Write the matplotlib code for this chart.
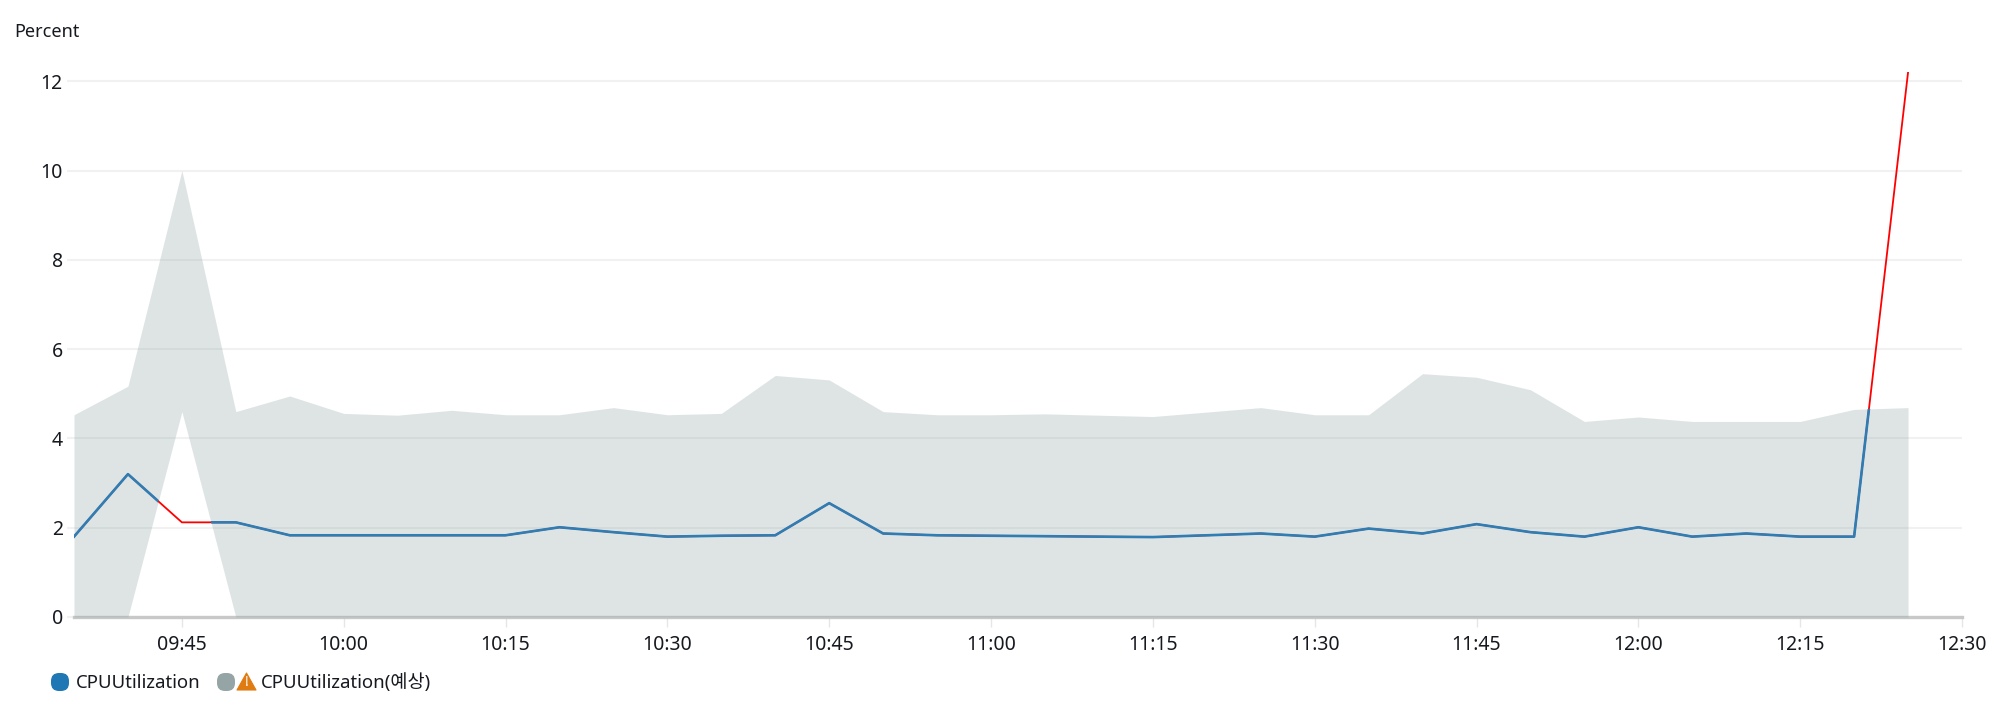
import matplotlib
matplotlib.use('Agg')
import matplotlib.pyplot as plt
import matplotlib.dates as mdates
import matplotlib.patches as mpatches
import pandas as pd

plt.rcParams['font.family'] = ['Noto Sans', 'Noto Sans CJK KR', 'DejaVu Sans']

# one sample every 5 minutes
times = pd.date_range('2024-01-01 09:35', '2024-01-01 12:25', freq='5min')
cpu = [1.80, 3.20, 2.12, 2.12, 1.83, 1.83, 1.83, 1.83, 1.83, 2.01, 1.90, 1.80,
       1.82, 1.83, 2.55, 1.87, 1.83, 1.82, 1.81, 1.80, 1.79, 1.83, 1.87, 1.80,
       1.98, 1.87, 2.08, 1.90, 1.80, 2.01, 1.80, 1.87, 1.80, 1.80, 12.20]
band_upper = [4.53, 5.17, 10.00, 4.60, 4.95, 4.56, 4.52, 4.63, 4.53, 4.53, 4.69, 4.53,
              4.56, 5.41, 5.31, 4.60, 4.53, 4.53, 4.55, 4.52, 4.49, 4.59, 4.69, 4.53,
              4.53, 5.45, 5.37, 5.09, 4.38, 4.48, 4.38, 4.38, 4.38, 4.65, 4.69]
band_lower = [0, 0, 4.60, 0, 0, 0, 0, 0, 0, 0, 0, 0,
              0, 0, 0, 0, 0, 0, 0, 0, 0, 0, 0, 0,
              0, 0, 0, 0, 0, 0, 0, 0, 0, 0, 0]

y_ticks = [0, 2, 4, 6, 8, 10, 12]
x_tick_labels = ['09:45', '10:00', '10:15', '10:30', '10:45', '11:00',
                 '11:15', '11:30', '11:45', '12:00', '12:15', '12:30']
x_ticks = [pd.Timestamp('2024-01-01 ' + t) for t in x_tick_labels]

W, H = 2000, 701
fig = plt.figure(figsize=(W / 100, H / 100), dpi=100)
ax = fig.add_axes([74 / W, 1 - 617 / H, (1962 - 74) / W, (617 - 72.3) / H])

# band first, grid shows through it
band = ax.fill_between(times, band_lower, band_upper, color='#92a8a8', alpha=0.3,
                       linewidth=0, zorder=3)

# red everywhere, blue only where the value stays inside the band
ax.plot(times, cpu, color='#ff0000', lw=1.3, zorder=4)
inside, = ax.plot(times, cpu, color='#2f7db3', lw=1.9, zorder=5)
inside.set_clip_path(band.get_paths()[0], ax.transData)

ax.set_xlim(times[0], x_ticks[-1])
ax.set_ylim(0, 12.2)
ax.set_yticks(y_ticks)
ax.set_xticks(x_ticks)
ax.set_xticklabels(x_tick_labels)
ax.xaxis.set_major_formatter(mdates.DateFormatter('%H:%M'))

ax.grid(axis='y', color='#f1f1f1', lw=1.5, zorder=1)
ax.set_axisbelow(True)
for side in ['top', 'right', 'left']:
    ax.spines[side].set_visible(False)
ax.spines['bottom'].set_color('#c8c8c8')
ax.spines['bottom'].set_linewidth(2.4)
ax.tick_params(axis='y', length=5, width=1.5, color='#f1f1f1', pad=3,
               labelsize=14, labelcolor='#16191f')
ax.tick_params(axis='x', length=7, width=1, color='#e6e6e6', pad=6,
               labelsize=14, labelcolor='#16191f')

fig.text(14 / W, 1 - 32 / H, 'Percent', fontsize=13, color='#16191f', va='center')


# legend is hand drawn in pixel space
def px_box(x, y, w, h, color):
    fig.add_artist(mpatches.FancyBboxPatch(
        (x / W, 1 - (y + h) / H), w / W, h / H,
        boxstyle='round,pad=0,rounding_size=0.004', mutation_aspect=W / H,
        facecolor=color, edgecolor='none', transform=fig.transFigure))


px_box(51, 673, 18, 18, '#1f77b4')
px_box(217, 673, 18, 18, '#95a5a6')
fig.add_artist(mpatches.Polygon(
    [(237 / W, 1 - 690 / H), (256 / W, 1 - 690 / H), (246.5 / W, 1 - 673 / H)],
    closed=True, facecolor='#e07b12', edgecolor='#e07b12', lw=0.8,
    joinstyle='round', transform=fig.transFigure))
fig.text(246.5 / W, 1 - 683 / H, '!', fontsize=10, fontweight='bold', color='white',
         ha='center', va='center')
fig.text(76 / W, 1 - 683 / H, 'CPUUtilization', fontsize=13.4, color='#16191f', va='center')
fig.text(261 / W, 1 - 683 / H, 'CPUUtilization(예상)', fontsize=13.4, color='#16191f', va='center')

fig.savefig('out.png', dpi=100)
